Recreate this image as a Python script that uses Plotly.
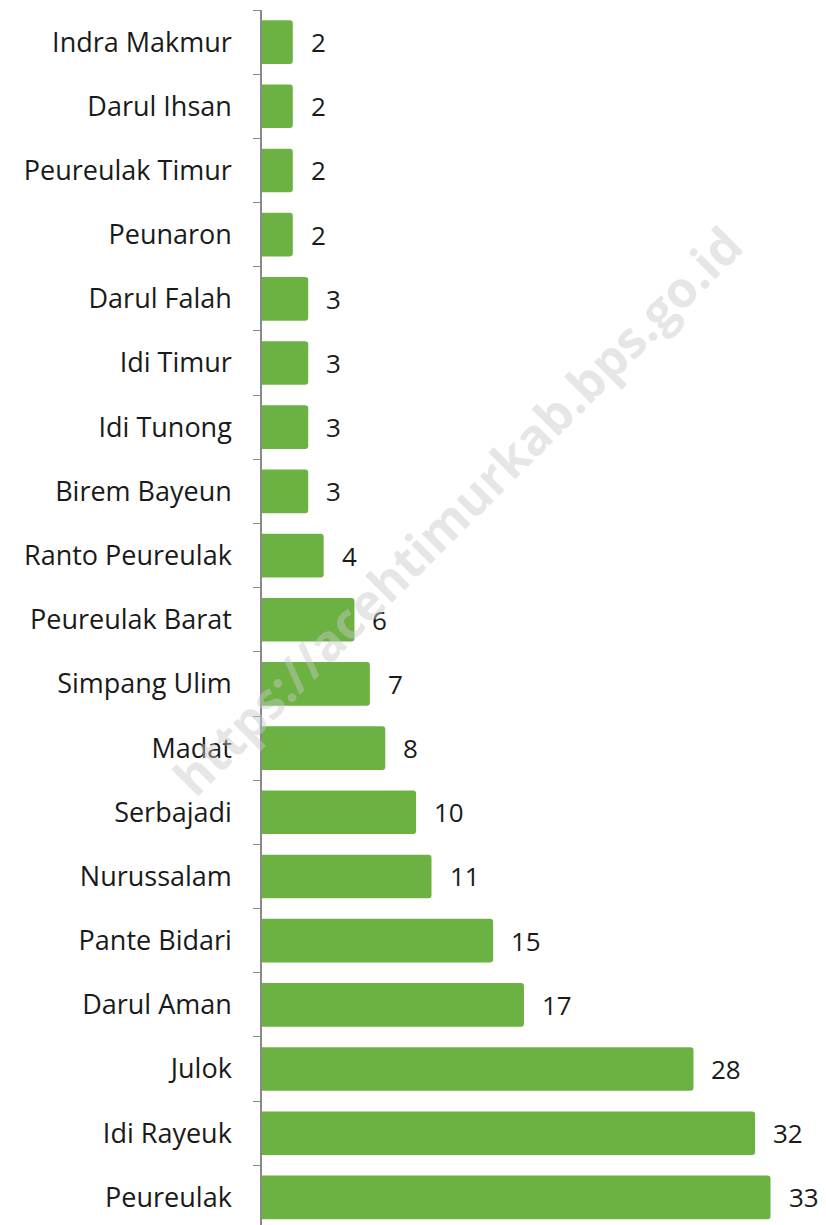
import plotly.graph_objects as go

categories = ["Peureulak", "Idi Rayeuk", "Julok", "Darul Aman", "Pante Bidari",
              "Nurussalam", "Serbajadi", "Madat", "Simpang Ulim", "Peureulak Barat",
              "Ranto Peureulak", "Birem Bayeun", "Idi Tunong", "Idi Timur", "Darul Falah",
              "Peunaron", "Peureulak Timur", "Darul Ihsan", "Indra Makmur"]
values = [33, 32, 28, 17, 15, 11, 10, 8, 7, 6, 4, 3, 3, 3, 3, 2, 2, 2, 2]

FONT = "Open Sans"

fig = go.Figure()
fig.add_trace(go.Bar(
    y=categories, x=values, orientation="h",
    marker=dict(color="#6cb243", line=dict(width=0), cornerradius=3),
    width=0.68, hoverinfo="skip",
))

annotations = []
for c, v in zip(categories, values):
    annotations.append(dict(x=v, y=c, xref="x", yref="y", text=str(v),
                            showarrow=False, xanchor="left", xshift=16,
                            font=dict(family=FONT, size=26, color="#1a1a1a")))
annotations.append(dict(x=0.345, y=0.588, xref="paper", yref="paper",
                        text="https://acehtimurkab.bps.go.id", showarrow=False,
                        textangle=-45,
                        font=dict(family=FONT, size=50, color="rgba(200,200,200,0.45)",
                                  weight="bold")))

fig.update_layout(
    width=818, height=1217,
    margin=dict(l=254, r=0, t=2, b=0),
    paper_bgcolor="white", plot_bgcolor="white",
    showlegend=False,
    annotations=annotations,
    xaxis=dict(range=[0, 36.6], visible=False),
    yaxis=dict(categoryorder="array", categoryarray=categories,
               range=[-0.43, 18.5],
               showline=True, linecolor="#8a8a8a", linewidth=1.5,
               ticks="outside", tickson="boundaries", ticklen=7, tickcolor="#8a8a8a",
               showgrid=False, zeroline=False,
               tickfont=dict(family=FONT, size=27, color="#1a1a1a"),
               ticklabelstandoff=23),
)

fig.write_html("out.html")
